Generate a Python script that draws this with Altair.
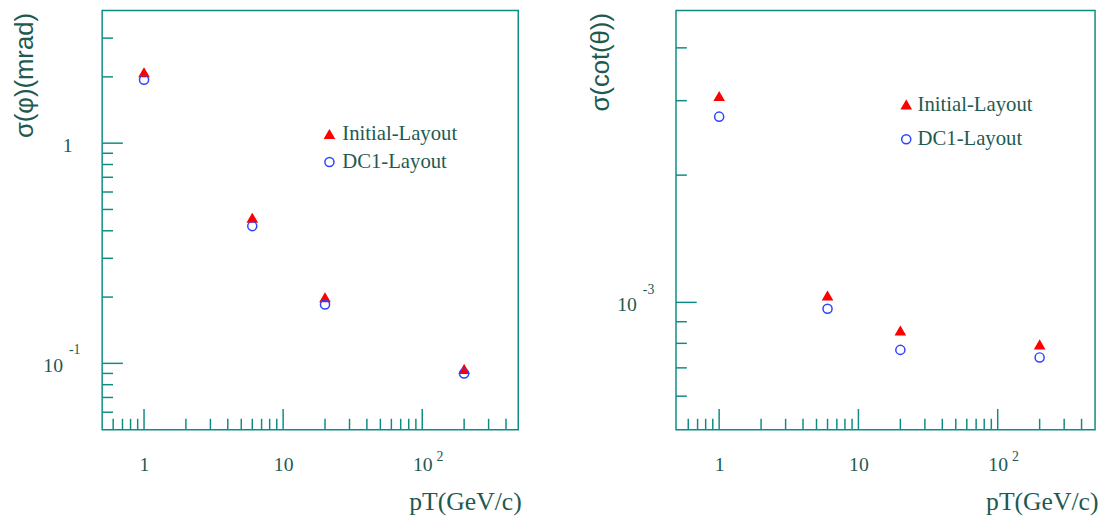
import altair as alt
import pandas as pd

# ---- data ----
pt = [1, 6, 20, 200]
series = ["Initial-Layout", "DC1-Layout"]
phi_initial = [2.09, 0.457, 0.199, 0.094]
phi_dc1 = [1.94, 0.42, 0.185, 0.090]
cot_initial = [3.07e-3, 1.036e-3, 0.856e-3, 0.794e-3]
cot_dc1 = [2.75e-3, 0.966e-3, 0.772e-3, 0.741e-3]

x_major = [1, 10, 100]
x_minor = [0.6, 0.7, 0.8, 0.9, 2, 3, 4, 5, 6, 7, 8, 9,
           20, 30, 40, 50, 60, 70, 80, 90, 200, 300, 400]
phi_major = [0.1, 1]
phi_minor = [0.06, 0.07, 0.08, 0.09, 0.2, 0.3, 0.4, 0.5, 0.6, 0.7, 0.8, 0.9, 2, 3]
cot_major = [1e-3]
cot_minor = [6e-4, 7e-4, 8e-4, 9e-4, 2e-3, 3e-3, 4e-3]

RED = "#ff0000"
BLUE = "#2a44ff"
TEAL = "#0e8c84"
TXT = "#1e5a52"
SERIF = "Liberation Serif"
SANS = "Liberation Sans"


def panel(y_init, y_dc1, ydom, xdom, W, H, ytitle, ytitle_x, ymaj, ymin,
          ylabels, leg_x, leg_y, row_pad, lab_off):
    df = pd.DataFrame({
        "pT": pt + pt,
        "sigma": y_init + y_dc1,
        "series": [series[0]] * len(pt) + [series[1]] * len(pt),
    })
    xs = alt.Scale(type="log", domain=xdom, nice=False)
    ys = alt.Scale(type="log", domain=ydom, nice=False)
    xaxis = alt.Axis(
        values=x_major, labelExpr="datum.value >= 100 ? '10' : datum.label",
        ticks=False, domain=False, grid=False, labelFont=SERIF,
        labelFontSize=20, labelColor=TXT, labelPadding=25, labelFlush=False,
        title="pT(GeV/c)", titleFont=SERIF, titleFontSize=26,
        titleFontWeight="normal", titleColor=TXT, titleAnchor="end",
        titleAlign="right", titleBaseline="alphabetic", titleX=W + 3, titleY=81)
    yaxis = alt.Axis(
        labels=False, ticks=False, domain=False, grid=False, title=ytitle,
        titleFont=SANS, titleFontSize=26, titleFontWeight="normal",
        titleColor=TXT, titleAngle=270, titleAlign="right",
        titleBaseline="middle", titleX=ytitle_x, titleY=2)
    leg = alt.Legend(orient="none", legendX=leg_x, legendY=leg_y, title=None,
                     labelFont=SERIF, labelFontSize=21, labelColor=TXT,
                     symbolSize=85, symbolStrokeWidth=1.5, rowPadding=row_pad,
                     labelOffset=lab_off, padding=0, direction="vertical")
    pts = alt.Chart(df).mark_point(size=85, strokeWidth=1.5, opacity=1).encode(
        x=alt.X("pT:Q", scale=xs, axis=xaxis),
        y=alt.Y("sigma:Q", scale=ys, axis=yaxis),
        shape=alt.Shape("series:N", scale=alt.Scale(domain=series, range=["triangle-up", "circle"]), legend=leg),
        stroke=alt.Stroke("series:N", scale=alt.Scale(domain=series, range=[RED, BLUE]), legend=leg),
        fill=alt.Fill("series:N", scale=alt.Scale(domain=series, range=[RED, "transparent"]), legend=leg),
    )

    def xt(vals, L):
        return alt.Chart(pd.DataFrame({"v": vals})).mark_rule(color=TEAL, strokeWidth=1.5).encode(
            x=alt.X("v:Q", scale=xs, axis=xaxis), y=alt.value(H), y2=alt.value(H - L))

    def yt(vals, L):
        return alt.Chart(pd.DataFrame({"v": vals})).mark_rule(color=TEAL, strokeWidth=1.5).encode(
            y=alt.Y("v:Q", scale=ys, axis=yaxis), x=alt.value(0), x2=alt.value(L))

    layers = [pts, xt(x_major, 21), xt(x_minor, 11), yt(ymaj, 21), yt(ymin, 11)]

    # superscript of the 10^2 x label
    layers.append(alt.Chart(pd.DataFrame({"v": [100]})).mark_text(
        font=SERIF, fontSize=14, color=TXT, baseline="middle", align="center", dx=18).encode(
        x=alt.X("v:Q", scale=xs, axis=xaxis), y=alt.value(H + 28), text=alt.value("2")))

    for v, base, sup, bx in ylabels:
        d = pd.DataFrame({"v": [v]})
        layers.append(alt.Chart(d).mark_text(
            font=SERIF, fontSize=20, color=TXT, baseline="middle", align="right", dy=3).encode(
            y=alt.Y("v:Q", scale=ys, axis=yaxis), x=alt.value(bx), text=alt.value(base)))
        if sup:
            layers.append(alt.Chart(d).mark_text(
                font=SERIF, fontSize=14, color=TXT, baseline="middle", align="left", dy=-13).encode(
                y=alt.Y("v:Q", scale=ys, axis=yaxis), x=alt.value(-33.7), text=alt.value(sup)))

    return alt.layer(*layers).properties(width=W, height=H)


left = panel(phi_initial, phi_dc1, [0.05, 4], [0.5, 490], 422, 425,
             "σ(φ)(mrad)", -78.7, phi_major, phi_minor,
             [(1, "1", None, -30), (0.1, "10", "-1", -39.7)],
             220, 115, 6, 2.5)
right = panel(cot_initial, cot_dc1, [5e-4, 4.9e-3], [0.49, 500], 425, 425,
              "σ(cot(θ))", -76.7, cot_major, cot_minor,
              [(1e-3, "10", "-3", -39.7)],
              223, 85, 13, 1)

chart = alt.hconcat(left, right, spacing=65).resolve_scale(
    shape="independent", stroke="independent", fill="independent"
).properties(
    padding={"left": 2.5, "top": -2, "right": 0, "bottom": 0},
    background="white",
).configure_view(stroke=TEAL, strokeWidth=1.5)

chart.save("out.html", embed_options={"renderer": "svg", "actions": False})
